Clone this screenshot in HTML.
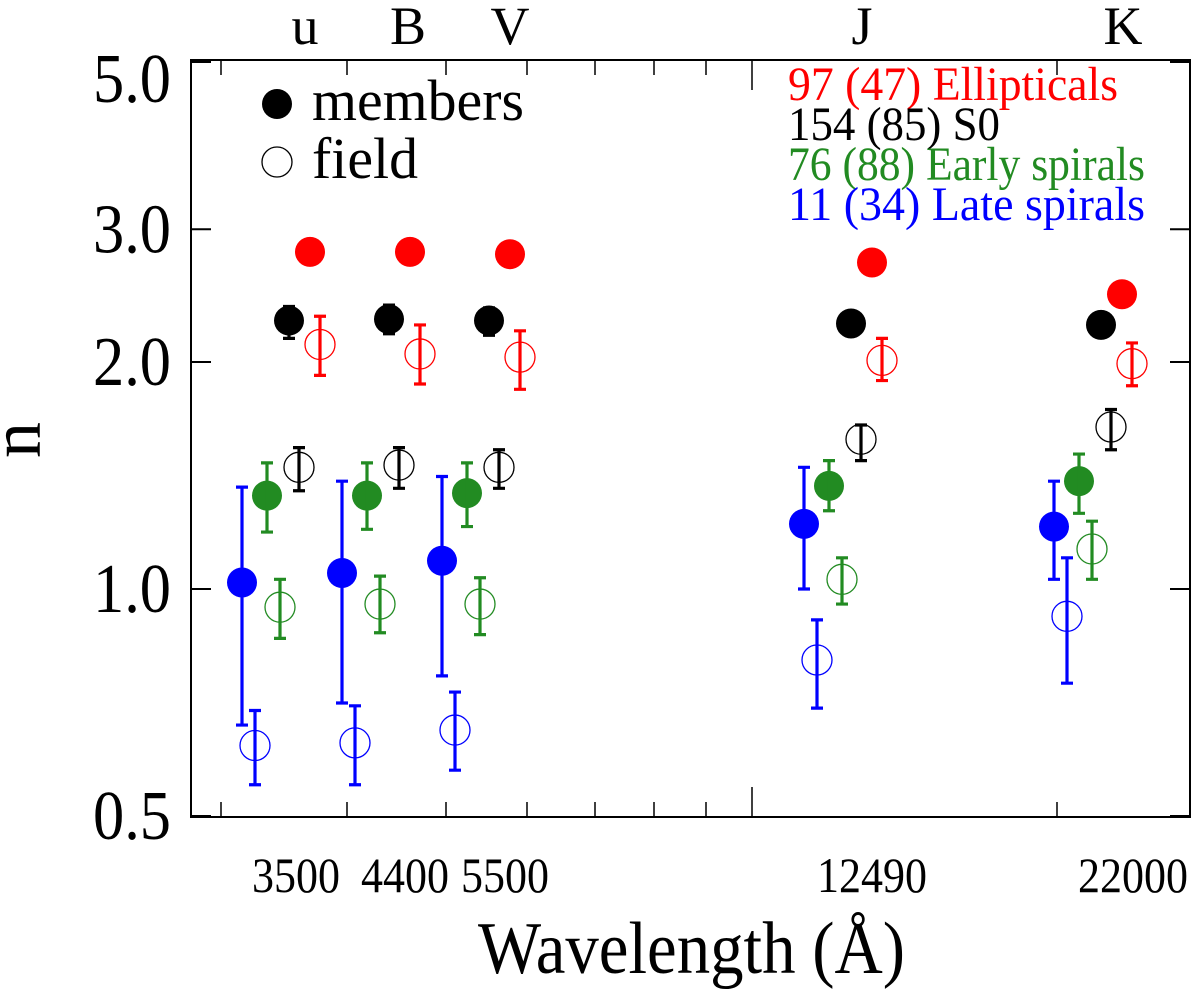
<!DOCTYPE html>
<html><head><meta charset="utf-8"><style>
body{margin:0;background:#fff}
svg{display:block;font-family:"Liberation Serif",serif}
</style></head><body>
<svg id="chart" width="1200" height="993" viewBox="0 0 1200 993">
<g id="axes"></g>
<g id="marks"></g>
<g>
<circle cx="277" cy="104" r="15" fill="#000"/>
<text x="312" y="120" font-size="58" textLength="212" lengthAdjust="spacingAndGlyphs">members</text>
<circle cx="277" cy="162" r="15" fill="none" stroke="#000" stroke-width="1.3"/>
<text x="312" y="178" font-size="58" textLength="106" lengthAdjust="spacingAndGlyphs">field</text>
</g>
<g font-size="48">
<text x="788" y="100" fill="#ff0000" textLength="330" lengthAdjust="spacingAndGlyphs">97 (47) Ellipticals</text>
<text x="788" y="140" fill="#000" textLength="212" lengthAdjust="spacingAndGlyphs">154 (85) S0</text>
<text x="788" y="180" fill="#228b22" textLength="357" lengthAdjust="spacingAndGlyphs">76 (88) Early spirals</text>
<text x="788" y="220" fill="#0000ff" textLength="357" lengthAdjust="spacingAndGlyphs">11 (34) Late spirals</text>
</g>
<text x="478" y="973" font-size="74" textLength="427" lengthAdjust="spacingAndGlyphs">Wavelength (Å)</text>
<text transform="translate(40,440) rotate(-90)" font-size="72" text-anchor="middle">n</text>
</svg>
<script>
const bands = ['u','B','V','J','K'];
const bandX = [300,400,500,862,1112];
const tickLabels = ['3500','4400','5500','12490','22000'];
const tickLabelX = [296,405,505,872,1133];
const bandLabelX = [305,408,510,862,1123];
const yTicks = [0.5,1.0,2.0,3.0,5.0];
const minorTickX = [221,347,446,527,595,654,706,1057];
const majorTickX = [752];
// series: [value, errHigh, errLow] per band
const lateMembers = [[1.02,1.365,0.66],[1.05,1.39,0.706],[1.09,1.41,0.767],[1.22,1.45,1.0],[1.21,1.39,1.03]];
const lateField = [[0.62,0.69,0.55],[0.625,0.70,0.55],[0.65,0.73,0.575],[0.805,0.91,0.695],[0.92,1.10,0.75]];
const earlyMembers = [[1.33,1.47,1.19],[1.33,1.47,1.20],[1.34,1.47,1.21],[1.37,1.48,1.27],[1.39,1.51,1.26]];
const earlyField = [[0.946,1.03,0.86],[0.955,1.04,0.875],[0.955,1.035,0.87],[1.03,1.10,0.955],[1.13,1.23,1.03]];
const s0Members = [[2.27,2.37,2.15],[2.28,2.38,2.18],[2.27,2.36,2.17],[2.25,null,null],[2.24,null,null]];
const s0Field = [[1.45,1.54,1.35],[1.46,1.54,1.36],[1.45,1.53,1.36],[1.58,1.65,1.48],[1.64,1.73,1.53]];
const ellMembers = [[2.80,null,null],[2.80,null,null],[2.78,null,null],[2.71,null,null],[2.46,null,null]];
const ellField = [[2.11,2.30,1.92],[2.05,2.24,1.87],[2.03,2.20,1.84],[2.01,2.15,1.89],[1.99,2.12,1.86]];

const series = [
 {name:'late-members',d:lateMembers,c:'#0000ff',f:true,o:-58},
 {name:'late-field',d:lateField,c:'#0000ff',f:false,o:-45},
 {name:'early-members',d:earlyMembers,c:'#228b22',f:true,o:-33},
 {name:'early-field',d:earlyField,c:'#228b22',f:false,o:-20},
 {name:'s0-members',d:s0Members,c:'#000000',f:true,o:-11},
 {name:'s0-field',d:s0Field,c:'#000000',f:false,o:-1},
 {name:'ell-members',d:ellMembers,c:'#ff0000',f:true,o:10},
 {name:'ell-field',d:ellField,c:'#ff0000',f:false,o:20}
];
const L=191,R=1190,T=60,B=817;
function y(v){return 589-754*Math.log10(v);}
function xb(i,o){return bandX[i]+o;}
const NS='http://www.w3.org/2000/svg';
function mk(t,a,p){const e=document.createElementNS(NS,t);for(const k in a)e.setAttribute(k,a[k]);p.appendChild(e);return e;}
const ax=document.getElementById('axes');
let e=mk('rect',{x:L,y:T,width:R-L,height:B-T,fill:'none',stroke:'#000','stroke-width':2},ax);


yTicks.forEach(v=>{
 const yy=y(v);
 let t=mk('line',{x1:L,x2:L+20,y1:yy,y2:yy,stroke:'#000','stroke-width':2},ax);
 
 
 t=mk('line',{x1:R-20,x2:R,y1:yy,y2:yy,stroke:'#000','stroke-width':2},ax);
 
 
 const lb=mk('text',{x:93,y:Math.max(yy+23,102),'font-size':70,textLength:78,lengthAdjust:'spacingAndGlyphs'},ax);
 lb.textContent=v.toFixed(1);
 
 
});
minorTickX.concat(majorTickX).forEach((xx,i)=>{
 const len=i>=minorTickX.length?30:15;
 let t=mk('line',{x1:xx,x2:xx,y1:B,y2:B-len,stroke:'#000','stroke-width':1.5},ax);
 
 
 t=mk('line',{x1:xx,x2:xx,y1:T,y2:T+len,stroke:'#000','stroke-width':1.5},ax);
 
 
});
tickLabels.forEach((s,i)=>{
 const w=s.length*22;
 const lb=mk('text',{x:tickLabelX[i]-w/2,y:892,'font-size':50,textLength:w,lengthAdjust:'spacingAndGlyphs'},ax);
 lb.textContent=s;
 
 
 const bl=mk('text',{x:bandLabelX[i],y:44,'font-size':54,'text-anchor':'middle'},ax);
 bl.textContent=bands[i];
 
 
});
const mg=document.getElementById('marks');
series.forEach(s=>{
 const g=mk('g',{},mg);
 
 
 s.d.forEach((p,i)=>{
  const cx=xb(i,s.o),cy=y(p[0]);
  if(s.f){
   const c=mk('circle',{cx:cx,cy:cy,r:15,fill:s.c},g);
   
   
  }
  if(p[1]!=null){
   const y1=y(p[1]),y2=y(p[2]);
   const eb=mk('path',{d:`M${cx},${y1}V${y2}M${cx-6},${y1}H${cx+6}M${cx-6},${y2}H${cx+6}`,stroke:s.c,'stroke-width':3.2,fill:'none'},g);
   
   
  }
  if(!s.f){
   const c=mk('circle',{cx:cx,cy:cy,r:15,fill:'none',stroke:s.c,'stroke-width':1.3},g);
   
   
  }
 });
});
</script>
</body></html>
